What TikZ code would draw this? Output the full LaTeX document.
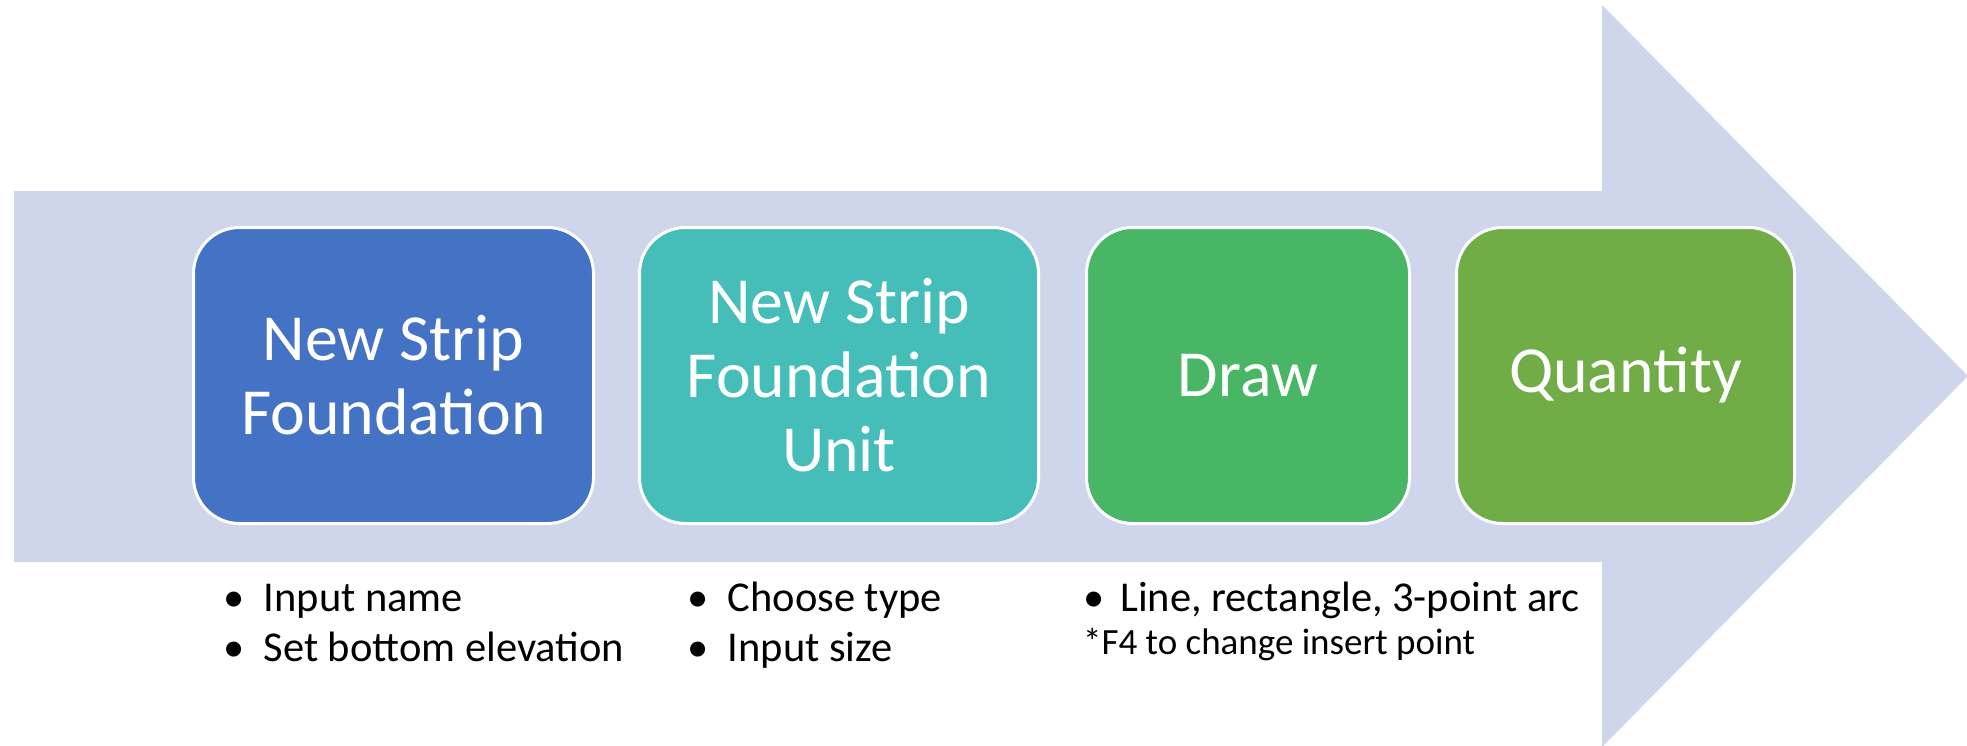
\documentclass[tikz,border=0pt]{standalone}
\usepackage{fontspec}
\setmainfont{Carlito}
\definecolor{arrowfill}{HTML}{CFD5EA}
\definecolor{stepA}{HTML}{4472C4}
\definecolor{stepB}{HTML}{45BDB9}
\definecolor{stepC}{HTML}{48B665}
\definecolor{stepD}{HTML}{70AD47}
\tikzset{
  stepbox/.style={draw=white, line width=3pt, rounded corners=46pt,
    minimum height=296pt, text=white, align=center, inner sep=0pt,
    font=\fontsize{65.8}{74}\selectfont},
  note/.style={anchor=base west, inner sep=0pt, font=\fontsize{42.5}{50}\selectfont},
  starnote/.style={anchor=base west, inner sep=0pt, font=\fontsize{37}{44}\selectfont},
}
\newcommand{\bul}[1]{\makebox[#1][l]{•}}
\begin{document}
\begin{tikzpicture}[x=1pt,y=-1pt]
  \useasboundingbox (0,0) rectangle (1967,745);
  % big process arrow
  \fill[arrowfill] (14,191) -- (1602,191) -- (1602,5) -- (1968,376)
    -- (1602,747) -- (1602,562) -- (14,562) -- cycle;
  % process steps
  \node[stepbox, fill=stepA, minimum width=400pt] (s1) at (393.5,375.5) {New Strip\\Foundation};
  \node[stepbox, fill=stepB, minimum width=399pt] (s2) at (839,375.5) {New Strip\\Foundation\\Unit};
  \node[stepbox, fill=stepC, minimum width=323pt] (s3) at (1248,375.5) {Draw};
  \node[stepbox, fill=stepD, minimum width=338pt] (s4) at (1625.5,375.5) {Quantity};
  % notes under the steps
  \node[note] (n1a) at (223.5,611) {\bul{40pt}Input name};
  \node[note] (n1b) at (223.5,661) {\bul{40pt}Set bottom elevation};
  \node[note] (n2a) at (687.6,611) {\bul{40pt}Choose type};
  \node[note] (n2b) at (687.6,661) {\bul{40pt}Input size};
  \node[note] (n3a) at (1083,611) {\bul{37pt}Line, rectangle, 3-point arc};
  \node[starnote] (n3b) at (1083,654) {*F4 to change insert point};
\end{tikzpicture}
\end{document}
